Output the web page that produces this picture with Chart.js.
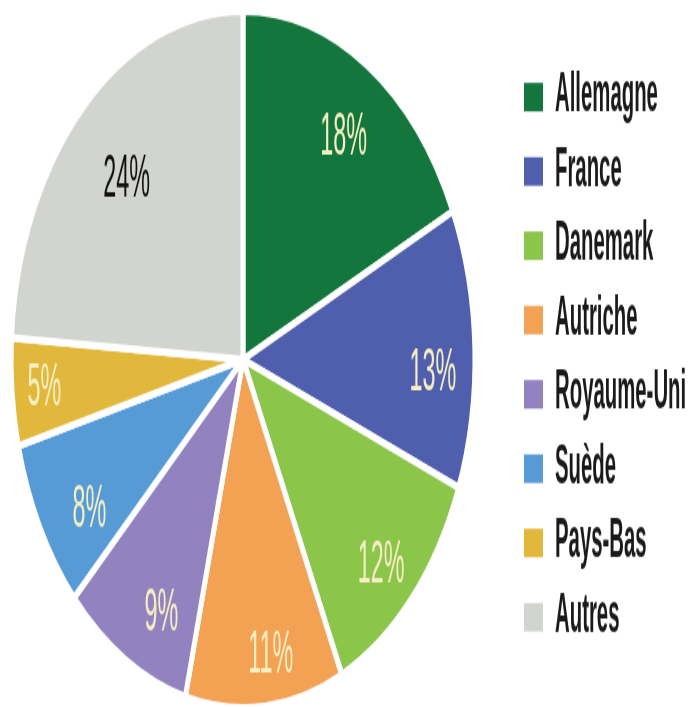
<!DOCTYPE html>
<html>
<head>
<meta charset="utf-8">
<style>
html,body{margin:0;padding:0;background:#ffffff;}
#outer{width:691px;height:707px;position:relative;overflow:visible;}
#wrap{position:absolute;left:0;top:0;width:691px;height:471px;transform:scaleY(1.5011);transform-origin:0 0;}
</style>
<script src="https://cdn.jsdelivr.net/npm/chart.js@4/dist/chart.umd.min.js"></script>
</head>
<body>
<div id="outer"><div id="wrap"><canvas id="c" width="691" height="471"></canvas></div></div>
<script>
const categories = ["Allemagne", "France", "Danemark", "Autriche", "Royaume-Uni", "Suède", "Pays-Bas", "Autres"];
const shares = [18, 13, 12, 11, 9, 8, 5, 24];
const sliceColors = ["#13773d", "#4f5fad", "#8bc54a", "#f3a153", "#9283c0", "#569bd6", "#e2b83c", "#d2d5cf"];
const labelColors = ["#f6efc4", "#f6efc4", "#f6efc4", "#f6efc4", "#f6efc4", "#f6efc4", "#f6efc4", "#111111"];

const FONT = '"Liberation Sans", Arial, sans-serif';

// label placement relative to each slice (fraction of radius, angle nudge in degrees)
const labelRadiusFrac = [0.77, 0.82, 0.84, 0.86, 0.81, 0.79, 0.86, 0.72];
const labelAngleNudge = [1.9, 4.7, 1.7, -2.6, -4.9, -4.2, -0.2, -1.0];

const labelsPlugin = {
  id: 'sliceLabels',
  afterDatasetsDraw(chart) {
    const ctx = chart.ctx;
    const meta = chart.getDatasetMeta(0);
    ctx.save();
    ctx.font = '41px ' + FONT;
    ctx.textAlign = 'center';
    ctx.textBaseline = 'middle';
    meta.data.forEach((arc, i) => {
      const p = arc.getProps(['x', 'y', 'startAngle', 'endAngle', 'outerRadius'], true);
      const mid = (p.startAngle + p.endAngle) / 2 + labelAngleNudge[i] * Math.PI / 180;
      const r = p.outerRadius * labelRadiusFrac[i];
      const x = p.x + Math.cos(mid) * r;
      const y = p.y + Math.sin(mid) * r;
      ctx.save();
      ctx.translate(x, y);
      ctx.scale(0.57, 1);
      ctx.fillStyle = labelColors[i];
      ctx.fillText(shares[i] + '%', 0, 0);
      ctx.restore();
    });
    ctx.restore();
  }
};

const legendPlugin = {
  id: 'sideLegend',
  afterDraw(chart) {
    const ctx = chart.ctx;
    ctx.save();
    ctx.font = 'bold 37px ' + FONT;
    ctx.textAlign = 'left';
    ctx.textBaseline = 'alphabetic';
    const top = 64.7, step = 49.5, box = 19;
    categories.forEach((name, i) => {
      const cy = top + i * step;
      ctx.fillStyle = sliceColors[i];
      ctx.fillRect(524, cy - box / 2, box, box);
      ctx.save();
      ctx.translate(555, cy + box / 2);
      ctx.scale(0.55, 1);
      ctx.fillStyle = '#1a1a1a';
      ctx.fillText(name, 0, 0);
      ctx.restore();
    });
    ctx.restore();
  }
};

new Chart(document.getElementById('c'), {
  type: 'pie',
  data: {
    labels: categories,
    datasets: [{
      data: shares,
      backgroundColor: sliceColors,
      borderColor: '#ffffff',
      borderWidth: 5
    }]
  },
  options: {
    responsive: false,
    animation: false,
    radius: 232,
    layout: { padding: { left: 0, right: 205, top: 8, bottom: 0 } },
    plugins: {
      legend: { display: false },
      tooltip: { enabled: false }
    }
  },
  plugins: [labelsPlugin, legendPlugin]
});
</script>
</body>
</html>
